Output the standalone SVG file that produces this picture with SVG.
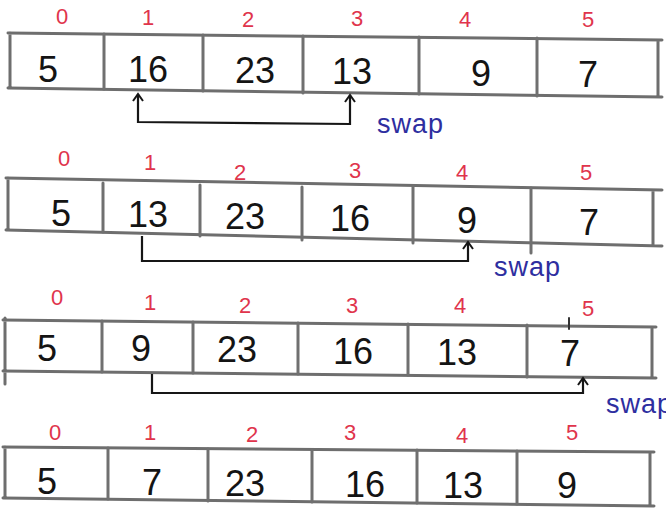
<svg xmlns="http://www.w3.org/2000/svg" width="666" height="508" viewBox="0 0 666 508">
<style>
.box{fill:none;stroke:#6e6e6e;stroke-width:3;stroke-linecap:round;stroke-linejoin:round}
.div{stroke:#707070;stroke-width:3;stroke-linecap:round}
.val{font-family:"Liberation Sans","DejaVu Sans",sans-serif;font-size:36px;fill:#141414;text-anchor:middle}
.idx{font-family:"Liberation Sans","DejaVu Sans",sans-serif;font-size:22px;fill:#e0344c;text-anchor:middle}
.swap{font-family:"Liberation Sans","DejaVu Sans",sans-serif;font-size:27px;fill:#2e2ea0;letter-spacing:1px}
.conn{fill:none;stroke:#161616;stroke-width:2.2;stroke-linejoin:miter}
</style>
<defs>
<marker id="head" viewBox="-10 -8 12 16" refX="0" refY="0" markerWidth="12" markerHeight="16" markerUnits="userSpaceOnUse" orient="auto-start-reverse">
<path d="M-7,-5 L0,0 L-7,5" fill="none" stroke="#161616" stroke-width="2"/>
</marker>
</defs>

<g id="row1">
<path class="box" d="M8,33 L662,40 M8,88 L662,97 M10,33 L10,88 M658,40 L658,97"/>
<path class="div" d="M104,34 L104,89 M203,35 L203,91 M303,36 L303,93 M419,37 L419,94 M537,38 L537,96"/>
<g id="r1c0"><text class="idx" x="62" y="24">0</text><text class="val" x="48" y="82">5</text></g>
<g id="r1c1"><text class="idx" x="148" y="25">1</text><text class="val" x="148" y="82">16</text></g>
<g id="r1c2"><text class="idx" x="248" y="27">2</text><text class="val" x="255" y="83">23</text></g>
<g id="r1c3"><text class="idx" x="357" y="26">3</text><text class="val" x="352" y="84">13</text></g>
<g id="r1c4"><text class="idx" x="465" y="27">4</text><text class="val" x="481" y="86">9</text></g>
<g id="r1c5"><text class="idx" x="588" y="27">5</text><text class="val" x="588" y="87">7</text></g>
</g>

<g id="row2">
<path class="box" d="M6,178 L662,190 M6,230 L662,246 M8,178 L8,230 M653,190 L653,245"/>
<path class="div" d="M103,183 L103,232 M200,185 L200,236 M302,187 L302,240 M413,186 L413,243 M531,188 L531,253"/>
<g id="r2c0"><text class="idx" x="64" y="166">0</text><text class="val" x="61" y="226">5</text></g>
<g id="r2c1"><text class="idx" x="150" y="170">1</text><text class="val" x="148" y="227">13</text></g>
<g id="r2c2"><text class="idx" x="240" y="180">2</text><text class="val" x="245" y="229">23</text></g>
<g id="r2c3"><text class="idx" x="355" y="178">3</text><text class="val" x="350" y="231">16</text></g>
<g id="r2c4"><text class="idx" x="462" y="180">4</text><text class="val" x="467" y="233">9</text></g>
<g id="r2c5"><text class="idx" x="586" y="180">5</text><text class="val" x="589" y="235">7</text></g>
</g>

<g id="row3">
<path class="box" d="M3,320 L656,327 M3,371 L656,378 M5,318 L5,384 M652,327 L652,378"/>
<path class="div" d="M102,321 L102,372 M193,322 L193,373 M298,323 L298,374 M408,324 L408,375 M527,325 L527,377"/>
<path class="div" d="M569,318 L569,329" style="stroke:#333;stroke-width:2"/>
<g id="r3c0"><text class="idx" x="57" y="305">0</text><text class="val" x="47" y="361">5</text></g>
<g id="r3c1"><text class="idx" x="150" y="310">1</text><text class="val" x="141" y="361">9</text></g>
<g id="r3c2"><text class="idx" x="245" y="313">2</text><text class="val" x="237" y="362">23</text></g>
<g id="r3c3"><text class="idx" x="352" y="313">3</text><text class="val" x="353" y="364">16</text></g>
<g id="r3c4"><text class="idx" x="460" y="313">4</text><text class="val" x="457" y="365">13</text></g>
<g id="r3c5"><text class="idx" x="588" y="316">5</text><text class="val" x="570" y="366">7</text></g>
</g>

<g id="row4">
<path class="box" d="M3,447 L654,452 M3,498 L654,506 M5,447 L5,498 M650,452 L650,505"/>
<path class="div" d="M108,448 L108,499 M208,449 L208,501 M312,450 L312,502 M417,450 L417,503 M517,451 L517,504"/>
<g id="r4c0"><text class="idx" x="55" y="440">0</text><text class="val" x="47" y="494">5</text></g>
<g id="r4c1"><text class="idx" x="150" y="440">1</text><text class="val" x="152" y="495">7</text></g>
<g id="r4c2"><text class="idx" x="252" y="442">2</text><text class="val" x="245" y="496">23</text></g>
<g id="r4c3"><text class="idx" x="350" y="440">3</text><text class="val" x="365" y="497">16</text></g>
<g id="r4c4"><text class="idx" x="462" y="443">4</text><text class="val" x="463" y="498">13</text></g>
<g id="r4c5"><text class="idx" x="572" y="440">5</text><text class="val" x="567" y="498">9</text></g>
</g>

<g id="connectors">
<path class="conn" d="M138,94 L138,122 L350,124 L350,95" marker-start="url(#head)" marker-end="url(#head)"/>
<path class="conn" d="M142,236 L142,261 L468,261 L468,242" marker-end="url(#head)"/>
<path class="conn" d="M152,374 L152,393 L583,393 L583,378" marker-end="url(#head)"/>
<text class="swap" x="377" y="133">swap</text>
<text class="swap" x="494" y="276">swap</text>
<text class="swap" x="606" y="413">swap</text>
</g>
</svg>
